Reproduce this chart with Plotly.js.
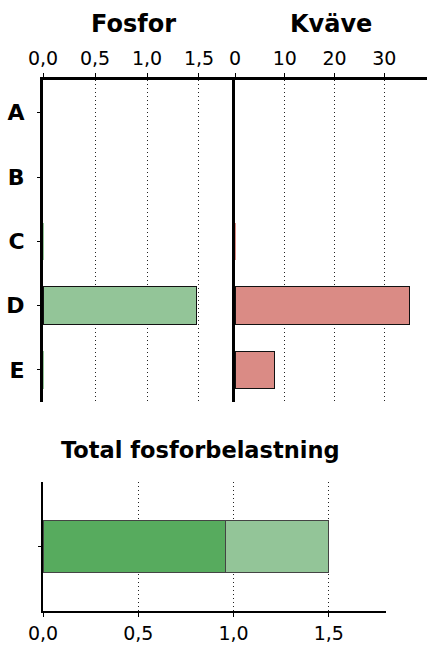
<!DOCTYPE html>
<html>
<head>
<meta charset="utf-8">
<script src="https://cdn.plot.ly/plotly-3.0.1.min.js"></script>
<style>html,body{margin:0;padding:0;background:#fff;}#chart{width:427px;height:647px;}</style>
</head>
<body>
<div id="chart"></div>
<script>
// Data
const categories = ["A", "B", "C", "D", "E"];
const fosfor = [0, 0, 0.006, 1.48, 0.006];
const kvave = [0, 0, 0.25, 35.0, 8.0];
const totalLabels = ["Total"];
const totalDark = [0.96];
const totalLight = [0.54];
const fosforTicks = [0, 0.5, 1.0, 1.5];
const kvaveTicks = [0, 10, 20, 30];

const lightGreen = "#93C598";
const darkGreen = "#57AB5E";
const salmon = "#DA8B85";
const FONT = "DejaVu Sans, Arial, sans-serif";

const W = 427, H = 647;
const px = v => v / W;
const py = v => 1 - v / H;
const outlineW = arr => arr.map(v => (v > 1 ? 1 : 0));

const traces = [
  {type: "bar", orientation: "h", y: categories, x: fosfor, xaxis: "x", yaxis: "y",
   marker: {color: lightGreen, line: {color: "#111", width: fosfor.map(v => (v > 0.1 ? 1 : 0))}}, width: 0.58},
  {type: "bar", orientation: "h", y: categories, x: kvave, xaxis: "x2", yaxis: "y2",
   marker: {color: salmon, line: {color: "#111", width: outlineW(kvave)}}, width: 0.58},
  {type: "bar", orientation: "h", y: totalLabels, x: totalDark, xaxis: "x3", yaxis: "y3",
   marker: {color: darkGreen, line: {color: "#444", width: 1}}, width: 0.4},
  {type: "bar", orientation: "h", y: totalLabels, x: totalLight, xaxis: "x3", yaxis: "y3",
   marker: {color: lightGreen, line: {color: "#444", width: 1}}, width: 0.4}
];

const tickFont = {family: FONT, size: 19, color: "#000"};
const gridCommon = {showgrid: true, gridcolor: "#222", griddash: "1px,3px", gridwidth: 1, zeroline: false,
  showline: true, linecolor: "#000", ticks: "outside", ticklen: 4, tickcolor: "#000", tickwidth: 1, tickfont: tickFont};

const layout = {
  width: W, height: H,
  margin: {l: 0, r: 0, t: 0, b: 0},
  paper_bgcolor: "#fff", plot_bgcolor: "rgba(0,0,0,0)",
  showlegend: false,
  separators: ", ",
  barmode: "stack",
  xaxis: Object.assign({}, gridCommon, {domain: [px(43), px(233)], range: [0, 1.827], side: "top", anchor: "y",
    tickvals: fosforTicks, tickformat: ".1f", linewidth: 3}),
  xaxis2: Object.assign({}, gridCommon, {domain: [px(235), 1], range: [0, 38.6], side: "top", anchor: "y2",
    tickvals: kvaveTicks, tickformat: "d", linewidth: 3}),
  xaxis3: Object.assign({}, gridCommon, {domain: [px(43), px(386)], range: [0, 1.8], side: "bottom", anchor: "y3",
    tickvals: fosforTicks, tickformat: ".1f", linewidth: 2}),
  yaxis: {domain: [py(402), py(80)], range: [4.5, -0.51], type: "category", anchor: "x",
    showline: true, linecolor: "#000", linewidth: 3, showgrid: false, zeroline: false,
    ticks: "outside", ticklen: 3, tickcolor: "#000", ticklabelstandoff: 8,
    tickfont: {family: FONT, size: 22, color: "#000", weight: "bold"}},
  yaxis2: {domain: [py(402), py(80)], range: [4.5, -0.51], type: "category", anchor: "x2",
    showline: true, linecolor: "#000", linewidth: 3, showgrid: false, zeroline: false,
    showticklabels: false, ticks: ""},
  yaxis3: {domain: [py(611), py(482)], range: [-0.5, 0.5], type: "category", anchor: "x3",
    showline: true, linecolor: "#000", linewidth: 2, showgrid: false, zeroline: false,
    showticklabels: false, ticks: "outside", ticklen: 3, tickcolor: "#000"},
  annotations: [
    {text: "Fosfor", xref: "paper", yref: "paper", x: px(133), y: py(24), xanchor: "center", yanchor: "middle",
     showarrow: false, font: {family: FONT, size: 24, color: "#000", weight: "bold"}},
    {text: "Kväve", xref: "paper", yref: "paper", x: px(331), y: py(24), xanchor: "center", yanchor: "middle",
     showarrow: false, font: {family: FONT, size: 24, color: "#000", weight: "bold"}},
    {text: "Total fosforbelastning", xref: "paper", yref: "paper", x: px(200), y: py(450), xanchor: "center", yanchor: "middle",
     showarrow: false, font: {family: FONT, size: 22.5, color: "#000", weight: "bold"}}
  ]
};

Plotly.newPlot("chart", traces, layout, {staticPlot: true, displayModeBar: false});
</script>
</body>
</html>
